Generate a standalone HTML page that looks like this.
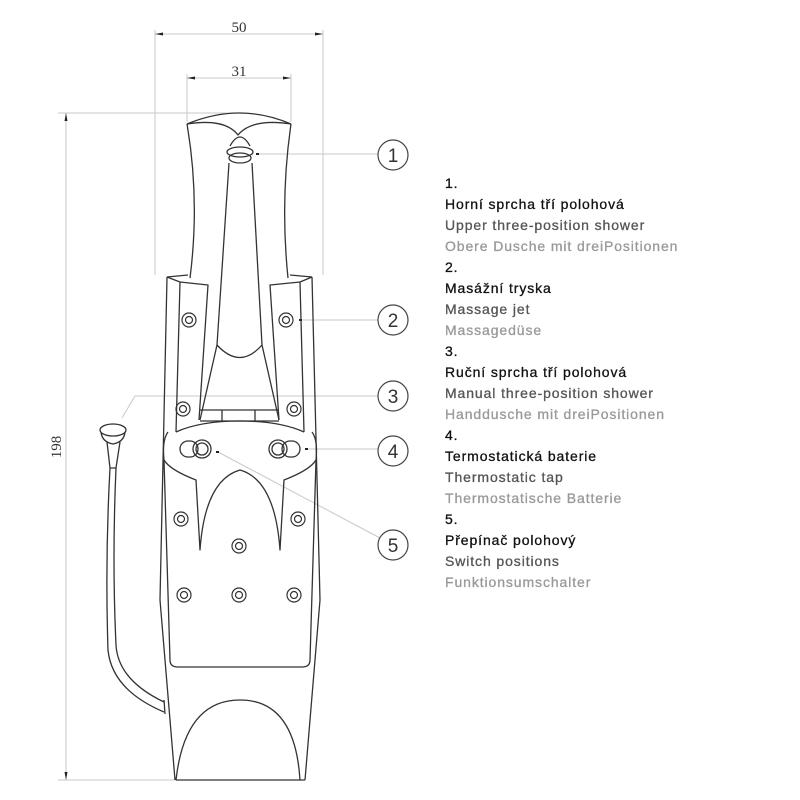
<!DOCTYPE html>
<html><head><meta charset="utf-8"><style>
html,body{margin:0;padding:0;background:#fff;width:800px;height:800px;overflow:hidden}
</style></head><body>
<svg width="800" height="800" viewBox="0 0 800 800" xmlns="http://www.w3.org/2000/svg">
<g stroke="#c8c8c8" stroke-width="1" fill="none">
<line x1="155" y1="30" x2="155" y2="275"/>
<line x1="323" y1="30" x2="323" y2="275"/>
<line x1="187" y1="74" x2="187" y2="122"/>
<line x1="291" y1="74" x2="291" y2="122"/>
<line x1="58" y1="113" x2="240" y2="113"/>
<line x1="58" y1="780" x2="180" y2="780"/>
<line x1="155" y1="34" x2="323" y2="34"/>
<line x1="187" y1="78" x2="291" y2="78"/>
<line x1="66" y1="113" x2="66" y2="780"/>
<line x1="258" y1="154" x2="378" y2="154"/>
<line x1="301" y1="320" x2="378" y2="320"/>
<polyline points="122,418 135,396 378,396"/>
<line x1="307" y1="449" x2="378" y2="449"/>
<line x1="218" y1="452" x2="380" y2="538"/>
</g>
<g fill="#222">
<path d="M155,34 l8,-1.5 v3z M323,34 l-8,-1.5 v3z M187,78 l8,-1.5 v3z M291,78 l-8,-1.5 v3z M66,113 l-1.5,8 h3z M66,780 l-1.5,-8 h3z"/>
<rect x="256" y="153" width="3" height="2"/><rect x="299" y="319" width="3" height="2"/>
<rect x="305" y="448" width="3" height="2"/><rect x="216" y="451" width="3" height="2"/>
</g>
<g font-family="Liberation Serif, serif" font-size="15" fill="#333">
<text x="239" y="32" text-anchor="middle">50</text>
<text x="239" y="76" text-anchor="middle">31</text>
<text transform="translate(61,447) rotate(-90)" text-anchor="middle">198</text>
</g>
<g stroke="#444" stroke-width="1.2" fill="#fff">
<circle cx="393" cy="155" r="15"/><circle cx="393" cy="320" r="15"/>
<circle cx="393" cy="396" r="15"/><circle cx="393" cy="451" r="15"/>
<circle cx="393" cy="545" r="15"/>
</g>
<g font-family="Liberation Sans, sans-serif" font-size="19" fill="#333" text-anchor="middle">
<text x="393" y="162">1</text><text x="393" y="327">2</text><text x="393" y="403">3</text>
<text x="393" y="458">4</text><text x="393" y="552">5</text>
</g>
<g stroke="#333" stroke-width="1.3" fill="none" stroke-linejoin="round">
<path d="M187,124 Q240,102 291,124"/>
<path d="M187,124 Q200,200 190,278"/>
<path d="M291,124 Q280,200 288,278"/>
<path d="M187,124 Q225,118 238,135 Q252,118 291,124"/>
<ellipse cx="240" cy="152" rx="13" ry="5"/>
<path d="M230,146 Q240,128 250,146"/>
<ellipse cx="240" cy="158" rx="11" ry="5"/>
<path d="M229,163 L217,345 Q240,370 262,345 L252,163"/>
<path d="M217,345 L200,420 M262,345 L279,420"/>
<path d="M167,277 L180,282 L208,285 L199,420"/>
<path d="M167,277 L188,275"/>
<path d="M180,282 L176,432"/>
<path d="M312,277 L300,282 L270,285 L279,420"/>
<path d="M312,277 L290,275"/>
<path d="M300,282 L304,432"/>
<path d="M167,277 L160,600 L175,780"/>
<path d="M312,277 L320,600 L305,780"/>
<path d="M176,780 L305,780"/>
<path d="M200,410 L279,410 M200,421 L279,421 M222,410 V421 M255,410 V421"/>
<path d="M176,432 Q200,421 240,421 Q280,421 304,432"/>
<path d="M168,432 Q162,440 164,460 Q170,470 196,480 L200,550 Q205,480 240,470 Q275,480 280,550 L284,480 Q310,470 316,460 Q318,440 312,432"/>
<path d="M164,460 L170,660 Q170,667 178,667 L302,667 Q310,667 310,660 L316,460"/>
<path d="M176,780 Q185,700 240,700 Q295,700 300,780"/>
<rect x="180" y="441" width="18" height="16" rx="8"/>
<circle cx="202" cy="449" r="9"/><circle cx="202" cy="449" r="6"/>
<rect x="282" y="441" width="18" height="16" rx="8"/>
<circle cx="278" cy="449" r="9"/><circle cx="278" cy="449" r="6"/>
</g>
<g stroke="#333" stroke-width="1.2" fill="none">
<circle cx="189" cy="320" r="7"/><circle cx="189" cy="320" r="3.5"/>
<circle cx="286" cy="320" r="7"/><circle cx="286" cy="320" r="3.5"/>
<circle cx="183" cy="409" r="7"/><circle cx="183" cy="409" r="3.5"/>
<circle cx="294" cy="409" r="7"/><circle cx="294" cy="409" r="3.5"/>
<circle cx="181" cy="519" r="7"/><circle cx="181" cy="519" r="3.5"/>
<circle cx="298" cy="519" r="7"/><circle cx="298" cy="519" r="3.5"/>
<circle cx="239" cy="546" r="7"/><circle cx="239" cy="546" r="3.5"/>
<circle cx="184" cy="595" r="7"/><circle cx="184" cy="595" r="3.5"/>
<circle cx="239" cy="595" r="7"/><circle cx="239" cy="595" r="3.5"/>
<circle cx="294" cy="595" r="7"/><circle cx="294" cy="595" r="3.5"/>
</g>
<g stroke="#333" stroke-width="1.3" fill="none">
<ellipse cx="113" cy="430" rx="13" ry="6"/>
<path d="M101,432 Q102,442 113,444 Q124,442 125,432"/>
<path d="M107,442 L110,468 L116,468 L120,442"/>
<path d="M110,468 Q105,560 108,650 Q112,690 164,712"/>
<path d="M116,468 Q112,560 116,645 Q118,680 164,702"/>
<path d="M164,700 L165,714"/>
</g>
<g font-family="Liberation Sans, DejaVu Sans, sans-serif" font-size="14" letter-spacing="0.9" stroke-width="0.3">
<text x="445" y="188" fill="#111" stroke="#111">1.</text>
<text x="445" y="209" fill="#111" stroke="#111">Horní sprcha tří polohová</text>
<text x="445" y="230" fill="#555" stroke="#555">Upper three-position shower</text>
<text x="445" y="251" fill="#999" stroke="#999">Obere Dusche mit dreiPositionen</text>
<text x="445" y="272" fill="#111" stroke="#111">2.</text>
<text x="445" y="293" fill="#111" stroke="#111">Masážní tryska</text>
<text x="445" y="314" fill="#555" stroke="#555">Massage jet</text>
<text x="445" y="335" fill="#999" stroke="#999">Massagedüse</text>
<text x="445" y="356" fill="#111" stroke="#111">3.</text>
<text x="445" y="377" fill="#111" stroke="#111">Ruční sprcha tří polohová</text>
<text x="445" y="398" fill="#555" stroke="#555">Manual three-position shower</text>
<text x="445" y="419" fill="#999" stroke="#999">Handdusche mit dreiPositionen</text>
<text x="445" y="440" fill="#111" stroke="#111">4.</text>
<text x="445" y="461" fill="#111" stroke="#111">Termostatická baterie</text>
<text x="445" y="482" fill="#555" stroke="#555">Thermostatic tap</text>
<text x="445" y="503" fill="#999" stroke="#999">Thermostatische Batterie</text>
<text x="445" y="524" fill="#111" stroke="#111">5.</text>
<text x="445" y="545" fill="#111" stroke="#111">Přepínač polohový</text>
<text x="445" y="566" fill="#555" stroke="#555">Switch positions</text>
<text x="445" y="587" fill="#999" stroke="#999">Funktionsumschalter</text>
</g>
</svg>
</body></html>
